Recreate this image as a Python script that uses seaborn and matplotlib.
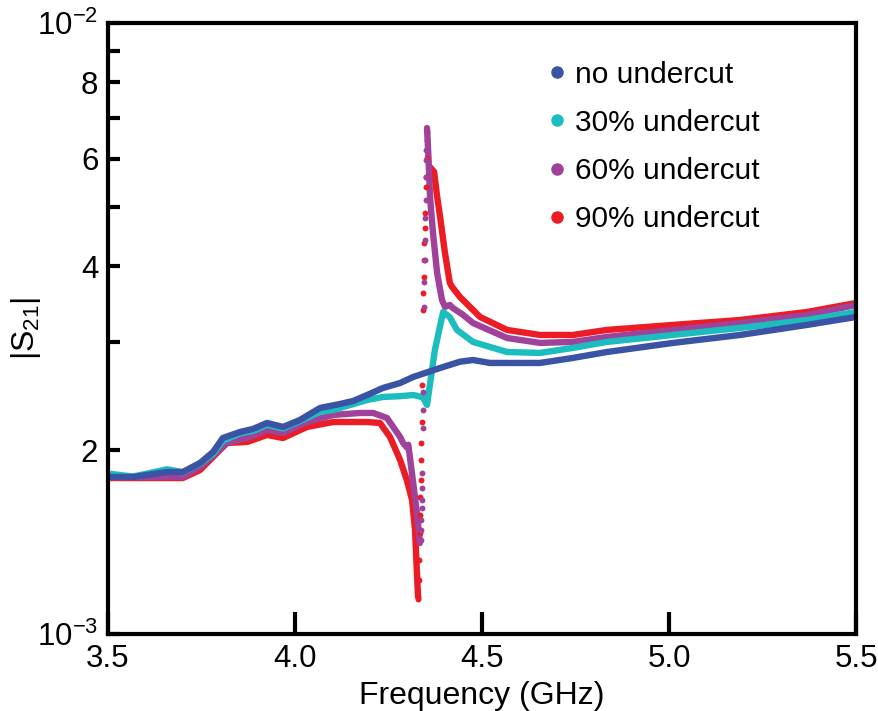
import pandas as pd
import seaborn as sns
import matplotlib.pyplot as plt
from matplotlib.lines import Line2D
from matplotlib import ticker

sns.set_theme(style="white")
plt.rcParams['font.family'] = ['Liberation Sans', 'DejaVu Sans']
plt.rcParams['mathtext.default'] = 'regular'
for key in ['text.color', 'axes.labelcolor', 'xtick.color', 'ytick.color']:
    plt.rcParams[key] = 'black'

# |S21| in units of 1e-3, frequency in GHz
blue_f = [3.50, 3.567, 3.658, 3.700, 3.746, 3.781, 3.807, 3.853, 3.888, 3.925, 3.968, 4.013,
          4.067, 4.120, 4.155, 4.193, 4.235, 4.281, 4.316, 4.388, 4.441, 4.476, 4.521, 4.655,
          4.743, 4.834, 5.011, 5.190, 5.369, 5.500]
blue_s = [1.807, 1.807, 1.841, 1.841, 1.905, 1.986, 2.093, 2.141, 2.166, 2.215, 2.182, 2.240,
          2.344, 2.379, 2.406, 2.461, 2.527, 2.575, 2.634, 2.725, 2.79, 2.808, 2.777, 2.777,
          2.830, 2.894, 2.995, 3.086, 3.205, 3.302]

cyan_f = [3.50, 3.567, 3.658, 3.700, 3.746, 3.781, 3.807, 3.853, 3.888, 3.925, 3.968, 4.013,
          4.067, 4.102, 4.193, 4.235, 4.281, 4.316, 4.342, 4.353, 4.374, 4.396, 4.414, 4.433,
          4.476, 4.567, 4.655, 4.743, 4.834, 5.011, 5.190, 5.369, 5.500]
cyan_s = [1.83, 1.81, 1.86, 1.84, 1.90, 1.97, 2.07, 2.13, 2.15, 2.20, 2.17, 2.23,
          2.31, 2.326, 2.415, 2.443, 2.45, 2.461, 2.44, 2.371, 2.916, 3.365, 3.30, 3.145,
          3.006, 2.894, 2.884, 2.939, 3.006, 3.086, 3.169, 3.265, 3.365]

purple_lo_f = [3.50, 3.70, 3.746, 3.818, 3.880, 3.925, 3.968, 4.032, 4.102, 4.174, 4.209,
               4.246, 4.281, 4.289, 4.299, 4.303, 4.316, 4.326, 4.334]
purple_lo_s = [1.807, 1.807, 1.877, 2.054, 2.101, 2.158, 2.133, 2.223, 2.283, 2.300, 2.300,
               2.257, 2.101, 2.054, 2.02, 2.04, 1.766, 1.578, 1.409]
purple_jump_f = [4.337, 4.338, 4.338, 4.339, 4.339, 4.340, 4.340, 4.341, 4.342, 4.342, 4.345,
                 4.346, 4.347, 4.347, 4.348, 4.349, 4.350, 4.351, 4.351, 4.352, 4.352]
purple_jump_s = [1.425, 1.48, 1.536, 1.608, 1.657, 1.734, 1.834, 2.174, 2.326, 2.489, 3.429,
                 3.768, 4.093, 4.413, 4.796, 5.133, 5.598, 5.968, 6.196, 6.434, 6.630]
purple_hi_f = [4.353, 4.357, 4.361, 4.369, 4.380, 4.393, 4.401, 4.414, 4.422, 4.449, 4.476,
               4.567, 4.655, 4.743, 4.834, 5.011, 5.190, 5.369, 5.500]
purple_hi_s = [6.731, 6.0, 5.191, 4.532, 3.899, 3.521, 3.43, 3.455, 3.416, 3.33, 3.228,
               3.051, 2.995, 3.006, 3.063, 3.145, 3.228, 3.327, 3.455]

red_lo_f = [3.50, 3.70, 3.746, 3.818, 3.872, 3.925, 3.968, 4.032, 4.102, 4.193, 4.227,
            4.254, 4.281, 4.299, 4.313, 4.321, 4.326, 4.329]
red_lo_s = [1.80, 1.80, 1.855, 2.054, 2.062, 2.117, 2.093, 2.182, 2.223, 2.223, 2.215,
            2.101, 1.927, 1.786, 1.657, 1.480, 1.258, 1.150]
red_jump_f = [4.329, 4.330, 4.331, 4.332, 4.333, 4.334, 4.335, 4.336, 4.337, 4.338, 4.339,
              4.340, 4.342, 4.343, 4.344, 4.345, 4.346, 4.347, 4.348, 4.350, 4.351, 4.353]
red_jump_s = [1.14, 1.15, 1.226, 1.322, 1.463, 1.566, 1.676, 1.786, 1.927, 2.054, 2.223,
              2.556, 3.390, 3.615, 3.839, 4.093, 4.364, 4.618, 4.887, 5.390, 5.598, 6.012]
red_hi_f = [4.362, 4.372, 4.380, 4.388, 4.401, 4.414, 4.420, 4.441, 4.495, 4.567, 4.655,
            4.743, 4.834, 5.011, 5.190, 5.369, 5.500]
red_hi_s = [5.8, 5.704, 5.2, 4.814, 4.203, 3.754, 3.698, 3.561, 3.302, 3.145, 3.086,
            3.086, 3.145, 3.205, 3.265, 3.365, 3.481]

labels = ['no undercut', '30% undercut', '60% undercut', '90% undercut']
colors = ['#3a53a4', '#1cbdbf', '#a0429a', '#ec1c24']

# series -> (line segments, jump dots); drawn red first so blue ends on top
series = {
    '90% undercut': ([(red_lo_f, red_lo_s), (red_hi_f, red_hi_s)], (red_jump_f, red_jump_s)),
    '60% undercut': ([(purple_lo_f, purple_lo_s), (purple_hi_f, purple_hi_s)],
                     (purple_jump_f, purple_jump_s)),
    '30% undercut': ([(cyan_f, cyan_s)], None),
    'no undercut': ([(blue_f, blue_s)], None),
}

fig, ax = plt.subplots(figsize=(8.79, 7.11), dpi=100)
fig.subplots_adjust(left=0.1229, right=0.9738, bottom=0.1083, top=0.9677)

for name, (segments, jump) in series.items():
    color = colors[labels.index(name)]
    for f, s in segments:
        df = pd.DataFrame({'freq': f, 's21': [v * 1e-3 for v in s]})
        sns.lineplot(data=df, x='freq', y='s21', ax=ax, color=color, linewidth=4.6,
                     sort=False, estimator=None, solid_capstyle='round', solid_joinstyle='round')
    if jump is not None:
        jdf = pd.DataFrame({'freq': jump[0], 's21': [v * 1e-3 for v in jump[1]]})
        sns.scatterplot(data=jdf, x='freq', y='s21', ax=ax, color=color, s=18,
                        linewidth=0, zorder=3)

ax.set_yscale('log')
ax.set_xlim(3.5, 5.5)
ax.set_ylim(1e-3, 1e-2)

ytick_vals = [k * 1e-3 for k in range(1, 11)]
ytick_labels = ['$10^{-3}$', '2', '', '4', '', '6', '', '8', '', '$10^{-2}$']
ax.set_yticks(ytick_vals)
ax.set_yticklabels(ytick_labels)
ax.yaxis.set_minor_locator(ticker.NullLocator())
ax.set_xticks([3.5, 4.0, 4.5, 5.0, 5.5])
ax.set_xticklabels(['3.5', '4.0', '4.5', '5.0', '5.5'])

ax.tick_params(axis='y', direction='in', length=8.5, width=3, labelsize=22.5, pad=7,
               left=True, right=False)
ax.tick_params(axis='x', direction='in', length=16, width=3, labelsize=22.5, pad=7,
               bottom=True, top=False)
for sp in ax.spines.values():
    sp.set_linewidth(3)
    sp.set_color('black')

ax.set_xlabel('Frequency (GHz)', fontsize=23, labelpad=5)
ax.set_ylabel('|S$_{21}$|', fontsize=23, labelpad=-4)

handles = [Line2D([], [], marker='o', linestyle='', markersize=8, color=c) for c in colors]
ax.legend(handles, labels, loc='upper left', bbox_to_anchor=(0.572, 0.958), frameon=False,
          fontsize=21.5, handlelength=0.6, handletextpad=0.3, labelspacing=0.68,
          borderaxespad=0)

plt.savefig('out.png', dpi=100)
